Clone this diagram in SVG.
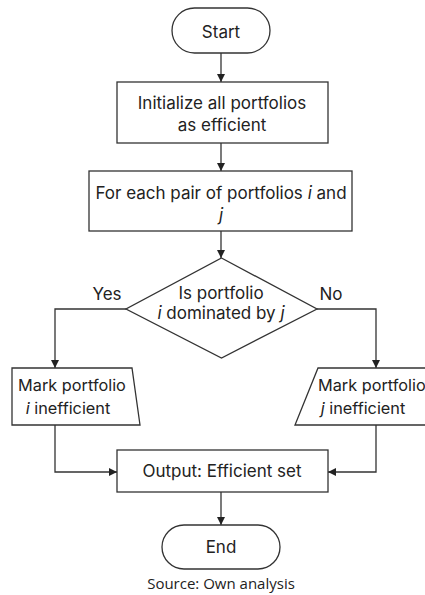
<svg xmlns="http://www.w3.org/2000/svg" width="425" height="595" viewBox="0 0 425 595">
<style>
.s{fill:#fff;stroke:#333;stroke-width:1.3}
.c{fill:none;stroke:#333;stroke-width:1.3}
text{font-family:Inter,"Liberation Sans",Arial,sans-serif;font-size:17px;fill:#222;text-anchor:middle}
.i{font-style:italic}
.m{font-size:16.3px}
.st{text-anchor:start}
.src{font-family:"Open Sans","Liberation Sans",sans-serif;font-size:15px}
</style>
<defs>
<marker id="a" viewBox="0 0 10 10" refX="10" refY="5" markerWidth="8" markerHeight="8" markerUnits="userSpaceOnUse" orient="auto">
<path d="M0,0 L10,5 L0,10 z" fill="#222"/>
</marker>
</defs>
<rect width="425" height="595" fill="#fff"/>
<g id="connectors">
<path class="c" d="M221,53 V82" marker-end="url(#a)"/>
<path class="c" d="M221,143 V171" marker-end="url(#a)"/>
<path class="c" d="M221,231 V258" marker-end="url(#a)"/>
<path class="c" d="M126,309 H55 V368" marker-end="url(#a)"/>
<path class="c" d="M317,309 H376 V368" marker-end="url(#a)"/>
<path class="c" d="M55,425 V472 H117" marker-end="url(#a)"/>
<path class="c" d="M376,425 V472 H328" marker-end="url(#a)"/>
<path class="c" d="M221,492 V525" marker-end="url(#a)"/>
</g>
<g id="start">
<rect class="s" x="172" y="8" width="98" height="45" rx="22.5"/>
<text x="221" y="38" font-size="18">Start</text>
</g>
<g id="init">
<rect class="s" x="117" y="82" width="211" height="61"/>
<text x="222" y="109">Initialize all portfolios</text>
<text x="222" y="131">as efficient</text>
</g>
<g id="foreach">
<rect class="s" x="89" y="171" width="263" height="60"/>
<text x="221" y="199">For each pair of portfolios <tspan class="i">i</tspan> and</text>
<text x="221" y="221" class="i">j</text>
</g>
<g id="decision">
<polygon class="s" points="221.5,258 317,309 221.5,358 126,309"/>
<text x="221" y="299">Is portfolio</text>
<text x="221" y="319"><tspan class="i">i</tspan> dominated by <tspan class="i">j</tspan></text>
<text x="107" y="300">Yes</text>
<text x="331" y="300">No</text>
</g>
<g id="markI">
<polygon class="s" points="12,368 132,368 140,425 12,425"/>
<text class="m" x="72" y="391">Mark portfolio</text>
<text class="m" x="68" y="414"><tspan class="i">i</tspan> inefficient</text>
</g>
<g id="markJ">
<polygon class="s" points="318,368 430,368 430,425 295,425"/>
<text class="m st" x="318" y="391">Mark portfolio</text>
<text class="m" x="363" y="414"><tspan class="i">j</tspan> inefficient</text>
</g>
<g id="output">
<rect class="s" x="117" y="450" width="211" height="42"/>
<text x="222" y="477">Output: Efficient set</text>
</g>
<g id="end">
<rect class="s" x="162" y="525" width="118" height="44" rx="22"/>
<text x="221" y="553" font-size="18">End</text>
</g>
<text class="src" x="221" y="589">Source: Own analysis</text>
</svg>
